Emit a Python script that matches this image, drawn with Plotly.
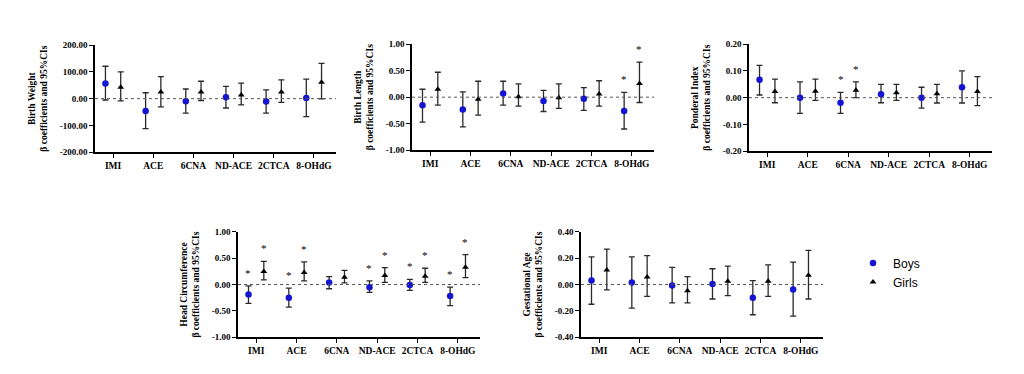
import plotly.graph_objects as go

categories = ["IMI", "ACE", "6CNA", "ND-ACE", "2CTCA", "8-OHdG"]

# Birth Weight
bw_boys = [57, -46, -10, 5, -11, 2]
bw_boys_lo = [-5, -112, -54, -35, -54, -67]
bw_boys_hi = [121, 22, 36, 46, 33, 73]
bw_girls = [43, 25, 25, 14, 25, 61]
bw_girls_lo = [-8, -31, -7, -23, -14, -1]
bw_girls_hi = [100, 82, 65, 58, 70, 132]
bw_sig_boys = [0, 0, 0, 0, 0, 0]
bw_sig_girls = [0, 0, 0, 0, 0, 0]

# Birth Length
bl_boys = [-0.15, -0.23, 0.07, -0.07, -0.03, -0.26]
bl_boys_lo = [-0.47, -0.56, -0.15, -0.27, -0.25, -0.60]
bl_boys_hi = [0.15, 0.10, 0.30, 0.13, 0.18, 0.09]
bl_girls = [0.15, -0.04, 0.01, -0.01, 0.06, 0.26]
bl_girls_lo = [-0.15, -0.34, -0.17, -0.21, -0.17, -0.10]
bl_girls_hi = [0.47, 0.30, 0.25, 0.25, 0.31, 0.66]
bl_sig_boys = [0, 0, 0, 0, 0, 1]
bl_sig_girls = [0, 0, 0, 0, 0, 1]

# Ponderal Index
pi_boys = [0.067, 0.0, -0.019, 0.013, 0.0, 0.039]
pi_boys_lo = [0.01, -0.059, -0.059, -0.019, -0.039, -0.02]
pi_boys_hi = [0.121, 0.059, 0.02, 0.05, 0.039, 0.10]
pi_girls = [0.023, 0.024, 0.028, 0.018, 0.015, 0.023]
pi_girls_lo = [-0.019, -0.01, 0.0, -0.01, -0.02, -0.03]
pi_girls_hi = [0.069, 0.069, 0.059, 0.05, 0.05, 0.079]
pi_sig_boys = [0, 0, 1, 0, 0, 0]
pi_sig_girls = [0, 0, 1, 0, 0, 0]

# Head Circumference
hc_boys = [-0.19, -0.25, 0.04, -0.05, -0.01, -0.22]
hc_boys_lo = [-0.36, -0.43, -0.08, -0.15, -0.11, -0.40]
hc_boys_hi = [-0.025, -0.07, 0.15, 0.07, 0.10, -0.05]
hc_girls = [0.25, 0.23, 0.14, 0.17, 0.16, 0.33]
hc_girls_lo = [0.09, 0.07, 0.03, 0.04, 0.04, 0.13]
hc_girls_hi = [0.44, 0.43, 0.27, 0.32, 0.31, 0.57]
hc_sig_boys = [1, 1, 0, 1, 1, 1]
hc_sig_girls = [1, 1, 0, 1, 1, 1]

# Gestational Age
ga_boys = [0.03, 0.015, -0.007, 0.005, -0.10, -0.037]
ga_boys_lo = [-0.15, -0.18, -0.14, -0.11, -0.23, -0.24]
ga_boys_hi = [0.21, 0.21, 0.13, 0.12, 0.03, 0.17]
ga_girls = [0.11, 0.057, -0.047, 0.025, 0.025, 0.07]
ga_girls_lo = [-0.04, -0.09, -0.14, -0.084, -0.09, -0.11]
ga_girls_hi = [0.27, 0.22, 0.06, 0.14, 0.15, 0.26]
ga_sig_boys = [0, 0, 0, 0, 0, 0]
ga_sig_girls = [0, 0, 0, 0, 0, 0]

panels = [
    dict(name="Birth Weight", b=bw_boys, blo=bw_boys_lo, bhi=bw_boys_hi,
         g=bw_girls, glo=bw_girls_lo, ghi=bw_girls_hi, sb=bw_sig_boys, sg=bw_sig_girls,
         ticks=[-200, -100, 0, 100, 200], box=(87, 328, 33, 143)),
    dict(name="Birth Length", b=bl_boys, blo=bl_boys_lo, bhi=bl_boys_hi,
         g=bl_girls, glo=bl_girls_lo, ghi=bl_girls_hi, sb=bl_sig_boys, sg=bl_sig_girls,
         ticks=[-1.0, -0.5, 0.0, 0.5, 1.0], box=(404, 646, 32, 141)),
    dict(name="Ponderal Index", b=pi_boys, blo=pi_boys_lo, bhi=pi_boys_hi,
         g=pi_girls, glo=pi_girls_lo, ghi=pi_girls_hi, sb=pi_sig_boys, sg=pi_sig_girls,
         ticks=[-0.2, -0.1, 0.0, 0.1, 0.2], box=(741, 984, 32, 142)),
    dict(name="Head Circumference", b=hc_boys, blo=hc_boys_lo, bhi=hc_boys_hi,
         g=hc_girls, glo=hc_girls_lo, ghi=hc_girls_hi, sb=hc_sig_boys, sg=hc_sig_girls,
         ticks=[-1.0, -0.5, 0.0, 0.5, 1.0], box=(230, 472, 225, 333)),
    dict(name="Gestational Age", b=ga_boys, blo=ga_boys_lo, bhi=ga_boys_hi,
         g=ga_girls, glo=ga_girls_lo, ghi=ga_girls_hi, sb=ga_sig_boys, sg=ga_sig_girls,
         ticks=[-0.4, -0.2, 0.0, 0.2, 0.4], box=(573, 815, 225, 333)),
]

W, H = 1024, 374
OFF = 0.19
BLUE = "#1414d2"
serif = "Liberation Serif, Times New Roman, serif"

fig = go.Figure()
annotations = []
shapes = []

for k, p in enumerate(panels):
    i = k + 1
    xa = "x" if i == 1 else f"x{i}"
    ya = "y" if i == 1 else f"y{i}"
    xb = [j - OFF for j in range(len(categories))]
    xg = [j + OFF for j in range(len(categories))]
    fig.add_trace(go.Scatter(
        x=xb, y=p["b"], mode="markers", name="Boys", legendgroup="b",
        showlegend=(i == 1), xaxis=xa, yaxis=ya,
        marker=dict(symbol="circle", size=6.5, color=BLUE),
        error_y=dict(type="data", symmetric=False,
                     array=[h - v for h, v in zip(p["bhi"], p["b"])],
                     arrayminus=[v - l for v, l in zip(p["b"], p["blo"])],
                     color="#2a2a2a", thickness=1.3, width=3),
    ))
    fig.add_trace(go.Scatter(
        x=xg, y=p["g"], mode="markers", name="Girls", legendgroup="g",
        showlegend=(i == 1), xaxis=xa, yaxis=ya,
        marker=dict(symbol="triangle-up", size=6, color="black"),
        error_y=dict(type="data", symmetric=False,
                     array=[h - v for h, v in zip(p["ghi"], p["g"])],
                     arrayminus=[v - l for v, l in zip(p["g"], p["glo"])],
                     color="#2a2a2a", thickness=1.3, width=3),
    ))
    x0, x1, t, b = p["box"]
    ticks = p["ticks"]
    fig.layout[f"xaxis{'' if i == 1 else i}"] = dict(
        domain=[x0 / W, x1 / W], anchor=ya, range=[-0.45, 5.55],
        tickvals=list(range(len(categories))), ticktext=categories,
        showline=True, linecolor="black", linewidth=1.5, ticks="outside",
        ticklen=4, tickwidth=1.2, tickcolor="black", showgrid=False, zeroline=False,
        tickfont=dict(family=serif, size=9.5, color="black", weight="bold"),
        fixedrange=True,
    )
    fig.layout[f"yaxis{'' if i == 1 else i}"] = dict(
        domain=[1 - b / H, 1 - t / H], anchor=xa, range=[ticks[0], ticks[-1]],
        tickvals=ticks, ticktext=[f"{v:.2f}" for v in ticks],
        showline=True, linecolor="black", linewidth=1.5, ticks="outside",
        ticklen=4, tickwidth=1.2, tickcolor="black", showgrid=False, zeroline=False,
        tickfont=dict(family=serif, size=9, color="black", weight="bold"),
        title=dict(text=f"{p['name']}<br>β coefficients and 95%CIs",
                   font=dict(family=serif, size=9.5, color="black", weight="bold"),
                   standoff=10),
        fixedrange=True,
    )
    shapes.append(dict(type="line", xref=f"{xa} domain", yref=ya, x0=0, x1=1, y0=0, y1=0,
                       line=dict(color="#555555", width=1, dash="dot")))
    for j in range(len(categories)):
        if p["sb"][j]:
            annotations.append(dict(x=xb[j], y=p["bhi"][j], xref=xa, yref=ya, text="*",
                                    showarrow=False, yanchor="bottom", yshift=5,
                                    font=dict(family=serif, size=11, color="#000000")))
        if p["sg"][j]:
            annotations.append(dict(x=xg[j], y=p["ghi"][j], xref=xa, yref=ya, text="*",
                                    showarrow=False, yanchor="bottom", yshift=5,
                                    font=dict(family=serif, size=11, color="#000000")))

fig.update_layout(
    width=W, height=H, margin=dict(l=0, r=0, t=0, b=0),
    paper_bgcolor="white", plot_bgcolor="white",
    shapes=shapes, annotations=annotations,
    showlegend=True,
    legend=dict(x=845 / W, y=1 - 242 / H, xanchor="left", yanchor="top",
                font=dict(family="Liberation Sans", size=12, color="black"),
                bgcolor="rgba(0,0,0,0)", itemwidth=30, tracegroupgap=0),
)

fig.write_html("out.html")
